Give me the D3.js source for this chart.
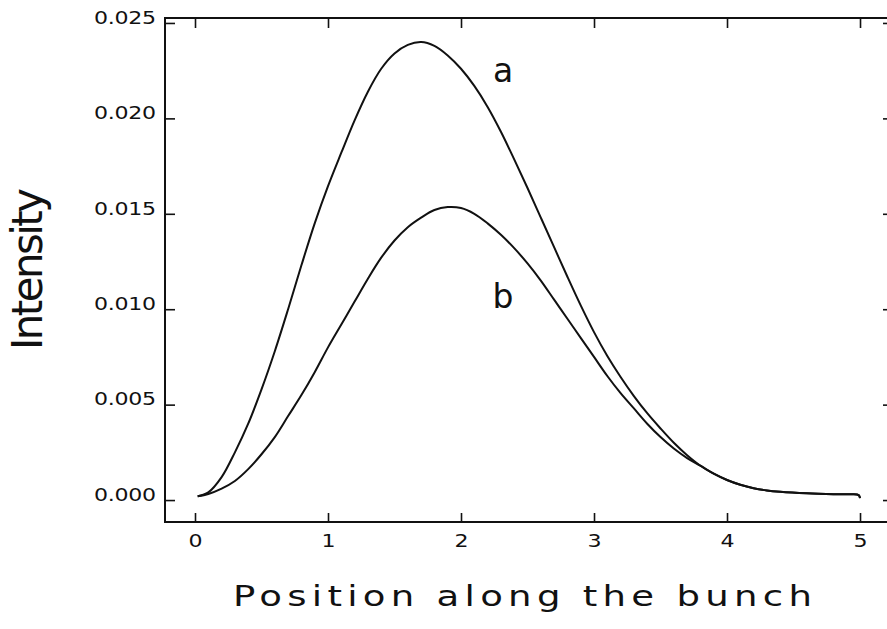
<!DOCTYPE html>
<html>
<head>
<meta charset="utf-8">
<script src="https://cdn.jsdelivr.net/npm/d3@7"></script>
<style>
  html, body { margin: 0; padding: 0; background: #fff; }
  svg { display: block; }
  text { font-family: "DejaVu Sans", "Liberation Sans", sans-serif; fill: #111; }
</style>
</head>
<body>
<svg id="chart" width="887" height="629"></svg>
<script>
// ---- data ----
const positions = [0.02, 0.1, 0.2, 0.3, 0.4, 0.5, 0.6, 0.7, 0.8, 0.9, 1.0, 1.1, 1.2, 1.3, 1.4, 1.5, 1.6, 1.7, 1.8, 1.9,
  2.0, 2.1, 2.2, 2.3, 2.4, 2.5, 2.6, 2.7, 2.8, 2.9, 3.0, 3.1, 3.2, 3.3, 3.4, 3.5, 3.6, 3.7, 3.8, 3.9,
  4.0, 4.1, 4.2, 4.3, 4.4, 4.6, 4.8, 4.93, 4.99, 5.0];
const seriesA = [0.0002, 0.0004, 0.0012, 0.0025, 0.0040, 0.0058, 0.0078, 0.0100, 0.0123, 0.0145, 0.01645, 0.0182, 0.0199, 0.0214, 0.0226, 0.0234, 0.02385, 0.0240, 0.0238, 0.0233,
  0.0226, 0.0217, 0.0206, 0.0193, 0.01785, 0.01635, 0.0148, 0.01325, 0.0117, 0.0102, 0.0088, 0.00755, 0.00645, 0.00545, 0.00455, 0.00375, 0.0030, 0.00235, 0.0018, 0.00138,
  0.00105, 0.0008, 0.00062, 0.0005, 0.00043, 0.00035, 0.00031, 0.0003, 0.00026, 0.0001];
const seriesB = [0.0002, 0.00032, 0.0006, 0.0010, 0.00162, 0.0024, 0.0033, 0.0044, 0.0055, 0.0067, 0.0080, 0.0092, 0.0104, 0.0116, 0.0127, 0.0136, 0.0143, 0.0148, 0.0152, 0.01535,
  0.0153, 0.0150, 0.0145, 0.0139, 0.0132, 0.0124, 0.0115, 0.0105, 0.0095, 0.0085, 0.0075, 0.0065, 0.0056, 0.0048, 0.0040, 0.0033, 0.0027, 0.0022, 0.0018, 0.00138,
  0.00105, 0.0008, 0.00062, 0.0005, 0.00043, 0.00035, 0.00031, 0.0003, 0.00026, 0.0001];
const xTicks = [0, 1, 2, 3, 4, 5];
const yTicks = [0, 0.005, 0.010, 0.015, 0.020, 0.025];
const curveLabels = ["a", "b"];
const curveLabelX = [2.316, 2.316];
const curveLabelY = [0.0219, 0.01006];
const xTitle = "Position along the bunch";
const yTitle = "Intensity";

// ---- layout ----
const svg = d3.select("#chart");
const mLeft = 165, mRight = 893, mTop = 18, mBottom = 522;
const x = d3.scaleLinear().domain([-0.2256, 5.248]).range([mLeft, mRight]);
const y = d3.scaleLinear().domain([-0.00115, 0.02526]).range([mBottom, mTop]);
const wide = 1.3; // horizontal stretch to mimic the wide plotter lettering

// frame
svg.append("rect")
  .attr("x", mLeft).attr("y", mTop)
  .attr("width", mRight - mLeft).attr("height", mBottom - mTop)
  .attr("fill", "none").attr("stroke", "#111").attr("stroke-width", 2);

function styleAxis(g) {
  g.select(".domain").remove();
  g.selectAll(".tick line").attr("stroke", "#111").attr("stroke-width", 1.6);
}

const tickFont = "DejaVu Sans, Liberation Sans, sans-serif";

// bottom axis
svg.append("g").attr("transform", `translate(0,${mBottom})`)
  .call(d3.axisBottom(x).tickValues(xTicks).tickFormat(d3.format("d")).tickSizeInner(-9).tickSizeOuter(0).tickPadding(13))
  .call(styleAxis)
  .call(g => g.selectAll("text")
    .attr("font-size", 17).attr("font-family", tickFont).attr("fill", "#111")
    .attr("transform", `scale(${wide},1)`));

// top axis (ticks only)
svg.append("g").attr("transform", `translate(0,${mTop})`)
  .call(d3.axisTop(x).tickValues(xTicks).tickFormat("").tickSizeInner(-10).tickSizeOuter(0))
  .call(styleAxis);

// left axis
svg.append("g").attr("transform", `translate(${mLeft},0)`)
  .call(d3.axisLeft(y).tickValues(yTicks).tickFormat(d3.format(".3f")).tickSizeInner(-10).tickSizeOuter(0).tickPadding(9))
  .call(styleAxis)
  .call(g => g.selectAll("text")
    .attr("font-size", 17).attr("font-family", tickFont).attr("fill", "#111")
    .attr("dy", "0.02em")
    .attr("x", -9 / wide)
    .attr("transform", `scale(${wide},1)`)
    .attr("textLength", 62 / wide).attr("lengthAdjust", "spacing"));

// right axis (ticks only)
svg.append("g").attr("transform", `translate(${mRight},0)`)
  .call(d3.axisRight(y).tickValues(yTicks).tickFormat("").tickSizeInner(-10).tickSizeOuter(0))
  .call(styleAxis);

// curves
const line = d3.line()
  .x(d => x(d[0]))
  .y(d => y(d[1]))
  .curve(d3.curveCatmullRom.alpha(0.5));

[seriesA, seriesB].forEach(s => {
  svg.append("path")
    .datum(positions.map((p, i) => [p, s[i]]))
    .attr("d", line)
    .attr("fill", "none")
    .attr("stroke", "#111")
    .attr("stroke-width", 2);
});

// curve labels
curveLabels.forEach((t, i) => {
  svg.append("text")
    .attr("x", x(curveLabelX[i]))
    .attr("y", y(curveLabelY[i]))
    .attr("text-anchor", "middle")
    .attr("font-family", "Liberation Sans, Arial, sans-serif")
    .attr("font-size", 33)
    .text(t);
});

// axis titles
svg.append("text")
  .attr("transform", `translate(233,606) scale(${wide},1)`)
  .attr("font-size", 28.5)
  .attr("textLength", 579 / wide).attr("lengthAdjust", "spacing")
  .text(xTitle);

svg.append("text")
  .attr("transform", "translate(42,269) rotate(-90)")
  .attr("text-anchor", "middle")
  .attr("font-family", "Liberation Sans, Arial, sans-serif")
  .attr("font-size", 42)
  .attr("textLength", 162).attr("lengthAdjust", "spacing")
  .text(yTitle);
</script>
</body>
</html>
